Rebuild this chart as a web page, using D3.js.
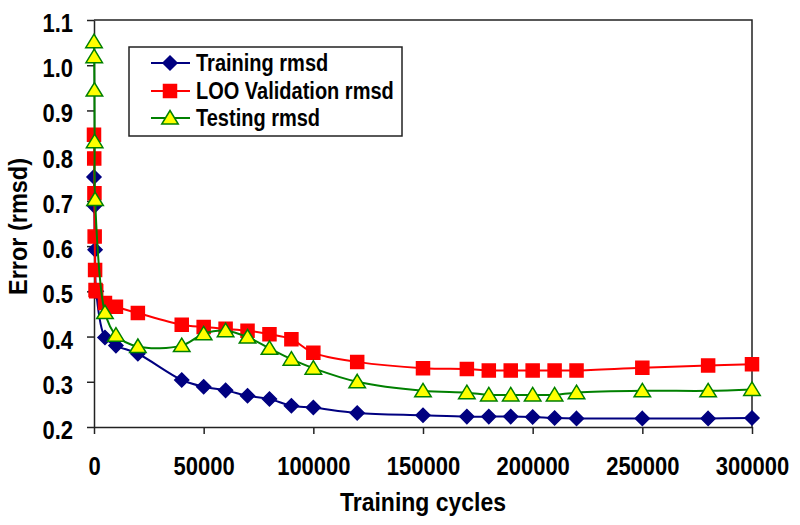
<!DOCTYPE html>
<html>
<head>
<meta charset="utf-8">
<script src="https://cdn.jsdelivr.net/npm/d3@7"></script>
<style>
  html, body { margin: 0; padding: 0; background: #fff; }
  svg { display: block; font-family: "Liberation Sans", Arial, sans-serif; font-weight: bold; }
</style>
</head>
<body>
<svg id="chart" width="800" height="525"></svg>
<script>
// ---- data ----
const xTicks = [0, 50000, 100000, 150000, 200000, 250000, 300000];
const yTicks = [0.2, 0.3, 0.4, 0.5, 0.6, 0.7, 0.8, 0.9, 1.0, 1.1];

const xTrain = [0, 200, 500, 1000, 5000, 10000, 20000, 40000, 50000, 60000, 70000, 80000, 90000, 100000, 120000, 150000, 170000, 180000, 190000, 200000, 210000, 220000, 250000, 280000, 300000];
const yTrain = [0.753, 0.689, 0.592, 0.500, 0.398, 0.380, 0.362, 0.304, 0.289, 0.281, 0.269, 0.262, 0.247, 0.243, 0.231, 0.226, 0.223, 0.223, 0.223, 0.222, 0.220, 0.219, 0.219, 0.219, 0.220];

const xLoo = [0, 100, 200, 300, 500, 700, 1000, 5000, 10000, 20000, 40000, 50000, 60000, 70000, 80000, 90000, 100000, 120000, 150000, 170000, 180000, 190000, 200000, 210000, 220000, 250000, 280000, 300000];
const yLoo = [0.846, 0.794, 0.717, 0.621, 0.547, 0.503, 0.500, 0.474, 0.466, 0.452, 0.426, 0.421, 0.417, 0.413, 0.405, 0.394, 0.364, 0.344, 0.330, 0.328, 0.325, 0.325, 0.325, 0.325, 0.325, 0.331, 0.336, 0.339];

const xTest = [0, 100, 200, 300, 500, 5000, 10000, 20000, 40000, 50000, 60000, 70000, 80000, 90000, 100000, 120000, 150000, 170000, 180000, 190000, 200000, 210000, 220000, 250000, 280000, 300000];
const yTest = [1.052, 1.019, 0.945, 0.831, 0.703, 0.453, 0.403, 0.378, 0.380, 0.406, 0.413, 0.399, 0.374, 0.350, 0.330, 0.300, 0.280, 0.276, 0.271, 0.271, 0.271, 0.271, 0.276, 0.280, 0.280, 0.283];

const seriesNames = ["Training rmsd", "LOO Validation rmsd", "Testing rmsd"];

// ---- layout ----
const L = 94, R = 752, T = 20, B = 427;
const svg = d3.select("#chart");
const x = d3.scaleLinear().domain([0, 300000]).range([L, R]);
const y = d3.scaleLinear().domain([0.2, 1.1]).range([B, T]);
const SY = 1.15;

// frame (top & right)
svg.append("path")
  .attr("d", `M${L},${T}H${R}V${B}`)
  .attr("fill", "none").attr("stroke", "#222").attr("stroke-width", 1.5);

// x axis
const gx = svg.append("g").attr("transform", `translate(0,${B})`)
  .call(d3.axisBottom(x).tickValues(xTicks).tickFormat(d3.format("d")).tickSize(7).tickSizeOuter(0));
gx.select(".domain").attr("stroke", "#222").attr("stroke-width", 1.5);
gx.selectAll(".tick line").attr("stroke", "#222").attr("stroke-width", 1.5);
gx.selectAll(".tick text")
  .attr("fill", "#000").attr("font-size", 22).attr("font-weight", "bold")
  .attr("font-family", "'Liberation Sans', Arial, sans-serif")
  .attr("dy", 0).attr("y", 48 / SY).attr("transform", `scale(1,${SY})`);

// y axis
const gy = svg.append("g").attr("transform", `translate(${L},0)`)
  .call(d3.axisLeft(y).tickValues(yTicks).tickFormat(d3.format(".1f")).tickSize(7).tickSizeOuter(0));
gy.select(".domain").attr("stroke", "#222").attr("stroke-width", 1.5);
gy.selectAll(".tick line").attr("stroke", "#222").attr("stroke-width", 1.5);
gy.selectAll(".tick text")
  .attr("fill", "#000").attr("font-size", 22).attr("font-weight", "bold")
  .attr("font-family", "'Liberation Sans', Arial, sans-serif")
  .attr("dy", 0).attr("x", -21).attr("y", 11.5 / SY).attr("transform", `scale(1,${SY})`);

// axis titles
svg.append("text")
  .attr("transform", `translate(${(L + R) / 2},511) scale(1,1.1)`)
  .attr("text-anchor", "middle").attr("font-size", 23).text("Training cycles");
svg.append("text")
  .attr("transform", `translate(27,${(T + B) / 2 + 3}) rotate(-90) scale(1,1.1)`)
  .attr("text-anchor", "middle").attr("font-size", 23.5).text("Error (rmsd)");

// series
const line = d3.line().x(d => x(d[0])).y(d => y(d[1])).curve(d3.curveCatmullRom.alpha(0.5));
const diamond = s => `M0,${-s}L${s},0L0,${s}L${-s},0Z`;
const square = s => `M${-s},${-s}H${s}V${s}H${-s}Z`;
const tri = s => `M0,${-s}L${s * 1.1},${s * 0.8}L${-s * 1.1},${s * 0.8}Z`;

const series = [
  { xs: xTrain, ys: yTrain, color: "#000080", shape: diamond(7), fill: "#000080", stroke: "#000080" },
  { xs: xLoo, ys: yLoo, color: "#FF0000", shape: square(6.5), fill: "#FF0000", stroke: "#FF0000" },
  { xs: xTest, ys: yTest, color: "#008000", shape: tri(7.5), fill: "#FFFF00", stroke: "#008000" }
];

series.forEach(s => {
  const pts = s.xs.map((v, i) => [v, s.ys[i]]);
  svg.append("path").datum(pts).attr("d", line)
    .attr("fill", "none").attr("stroke", s.color).attr("stroke-width", 2);
  svg.append("g").selectAll("path").data(pts).join("path")
    .attr("transform", d => `translate(${x(d[0])},${y(d[1])})`)
    .attr("d", s.shape).attr("fill", s.fill).attr("stroke", s.stroke).attr("stroke-width", 1.5);
});

// legend
const lg = svg.append("g");
lg.append("rect").attr("x", 129).attr("y", 47).attr("width", 273).attr("height", 89)
  .attr("fill", "#fff").attr("stroke", "#222").attr("stroke-width", 1.5);
const rowsY = [63, 91, 118];
series.forEach((s, i) => {
  lg.append("line").attr("x1", 151).attr("x2", 190).attr("y1", rowsY[i]).attr("y2", rowsY[i])
    .attr("stroke", s.color).attr("stroke-width", 2);
  lg.append("path").attr("transform", `translate(170,${rowsY[i]})`)
    .attr("d", s.shape).attr("fill", s.fill).attr("stroke", s.stroke).attr("stroke-width", 1.5);
  lg.append("text").attr("transform", `translate(196,${rowsY[i] + 8}) scale(1,1.15)`)
    .attr("font-size", 20).text(seriesNames[i]);
});
</script>
</body>
</html>
